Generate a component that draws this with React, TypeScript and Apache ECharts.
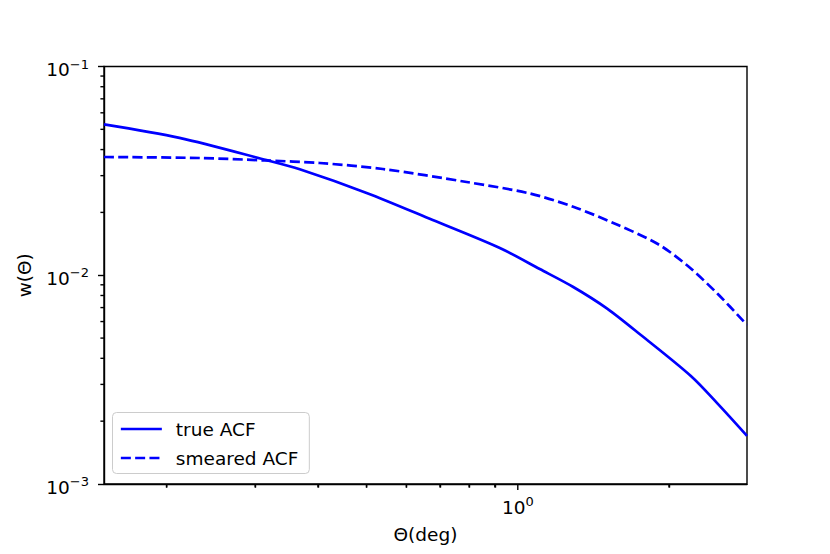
import React, { useEffect, useRef } from 'react';
import * as echarts from 'echarts';

// ---- data ----
const trueTheta = [0.150, 0.212, 0.316, 0.368, 0.500, 0.677, 0.921, 1.106, 1.287, 1.504, 1.758, 2.211, 2.502, 2.86];
const trueW = [0.0528, 0.0455, 0.0356, 0.03218, 0.0248, 0.0184, 0.01351, 0.01071, 0.00881, 0.00694, 0.00517, 0.00329, 0.00242, 0.0017];

const smearTheta = [0.150, 0.2325, 0.316, 0.403, 0.5385, 0.791, 1.057, 1.293, 1.575, 1.900, 2.181, 2.502, 2.86];
const smearW = [0.03685, 0.03645, 0.03545, 0.03449, 0.03228, 0.02797, 0.02464, 0.02123, 0.0175, 0.01412, 0.01107, 0.00813, 0.00578];

const seriesNames = ['true ACF', 'smeared ACF'];

const xRange = [0.15, 2.86];
const yRange = [0.001, 0.1];
const xMajorTicks = [1];
const xMinorTicks = [0.2, 0.3, 0.4, 0.5, 0.6, 0.7, 0.8, 0.9, 2];
const yMajorTicks = [0.001, 0.01, 0.1];
const yMinorTicks = [
  0.002, 0.003, 0.004, 0.005, 0.006, 0.007, 0.008, 0.009,
  0.02, 0.03, 0.04, 0.05, 0.06, 0.07, 0.08, 0.09,
];

const FONT = 'DejaVu Sans';
const FS = 18.5;
const powLabel = (v: number) => {
  const e = Math.round(v);
  const s = e < 0 ? '\u2212' + String(-e) : String(e);
  return '{b|10}{s|' + s + '}';
};
const richPow = {
  b: { fontSize: FS, lineHeight: 18, padding: [6, 0, 0, 0], color: '#000', fontFamily: FONT },
  s: { fontSize: 13, lineHeight: 18, verticalAlign: 'top', color: '#000', fontFamily: FONT },
};

const L = (a: number[]) => a.map((v) => Math.log10(v));

export default function App() {
  const ref = useRef<HTMLDivElement>(null);
  useEffect(() => {
    if (!ref.current) return;
    const chart = echarts.init(ref.current, undefined, { renderer: 'svg' });
    const gridPos = { left: 104, right: 83, top: 66.5, bottom: 70 };
    const tickStyle = { color: '#000', width: 1.4 };
    const xMin = Math.log10(xRange[0]);
    const xMax = Math.log10(xRange[1]);
    const yMin = Math.log10(yRange[0]);
    const yMax = Math.log10(yRange[1]);

    // x ticks hang below the bottom spine, placed through the x scale
    const xTickSeries = (vals: number[], len: number) => ({
      type: 'custom', xAxisIndex: 0, yAxisIndex: 0, clip: false, silent: true, z: 100,
      data: L(vals).map((v) => [v, yMin]),
      renderItem: (_p: any, api: any) => {
        const pt = api.coord([api.value(0), api.value(1)]);
        return {
          type: 'line', z2: 100,
          shape: { x1: pt[0], y1: pt[1], x2: pt[0], y2: pt[1] + len },
          style: { stroke: '#000', lineWidth: 1.4 },
        };
      },
    });
    // y minor ticks stick out left of the left spine, placed through the y scale
    const yTickSeries = (vals: number[], len: number) => ({
      type: 'custom', xAxisIndex: 0, yAxisIndex: 0, clip: false, silent: true, z: 100,
      data: L(vals).map((v) => [xMin, v]),
      renderItem: (_p: any, api: any) => {
        const pt = api.coord([api.value(0), api.value(1)]);
        return {
          type: 'line',
          shape: { x1: pt[0] - len, y1: pt[1], x2: pt[0], y2: pt[1] },
          style: { stroke: '#000', lineWidth: 1.4 },
        };
      },
    });

    chart.setOption({
      animation: false,
      backgroundColor: '#fff',
      grid: [{ ...gridPos, show: true, borderColor: '#000', borderWidth: 1.4 }],
      xAxis: [
        {
          type: 'value', min: xMin, max: xMax,
          axisLine: { show: true, onZero: false, lineStyle: { color: '#000', width: 1.4 } },
          splitLine: { show: false },
          axisTick: { show: true, customValues: L(xMinorTicks), length: 3.6, lineStyle: tickStyle },
          axisLabel: {
            customValues: L(xMajorTicks), formatter: powLabel, margin: 11,
            rich: richPow, color: '#000', fontFamily: FONT,
          },
          name: 'Θ(deg)', nameLocation: 'middle', nameGap: 41,
          nameTextStyle: { fontSize: FS, color: '#000', fontFamily: FONT },
        },
      ],
      yAxis: [
        {
          type: 'value', min: yMin, max: yMax,
          axisLine: { show: true, onZero: false, lineStyle: { color: '#000', width: 1.4 } },
          splitLine: { show: false },
          axisTick: { show: true, customValues: L(yMajorTicks), length: 6, lineStyle: tickStyle },
          axisLabel: {
            customValues: L(yMajorTicks), formatter: powLabel, margin: 15,
            rich: richPow, color: '#000', fontFamily: FONT,
          },
          name: 'w(Θ)', nameLocation: 'middle', nameGap: 70,
          nameTextStyle: { fontSize: FS, color: '#000', fontFamily: FONT },
        },
      ],
      legend: {
        left: 112.5, top: 412.5, orient: 'vertical',
        itemWidth: 41, itemHeight: 14, itemGap: 10,
        padding: [7, 11, 6, 7],
        borderColor: '#cccccc', borderWidth: 1, borderRadius: 4,
        backgroundColor: '#fff',
        itemStyle: { color: 'rgba(0,0,0,0)', borderColor: 'rgba(0,0,0,0)', borderWidth: 0 },
        lineStyle: { width: 2.7 },
        textStyle: { fontSize: FS, color: '#000', fontFamily: FONT, padding: [0, 0, 0, 9] },
        data: seriesNames,
      },
      series: [
        {
          name: seriesNames[0], type: 'line', symbol: 'none', smooth: 0.3,
          lineStyle: { color: '#0000ff', width: 2.7 },
          itemStyle: { color: '#0000ff' },
          data: trueTheta.map((t, i) => [Math.log10(t), Math.log10(trueW[i])]),
        },
        {
          name: seriesNames[1], type: 'line', symbol: 'none', smooth: 0.3,
          lineStyle: { color: '#0000ff', width: 2.7, type: [10, 4.3] },
          itemStyle: { color: '#0000ff' },
          data: smearTheta.map((t, i) => [Math.log10(t), Math.log10(smearW[i])]),
        },
        xTickSeries(xMajorTicks, 6),
        xTickSeries(xMinorTicks, 3.6),
        yTickSeries(yMinorTicks, 3.6),
      ],
    });
    return () => chart.dispose();
  }, []);
  return (
    <div
      ref={ref}
      style={{ position: 'fixed', left: 0, top: 0, width: 830, height: 554 }}
    />
  );
}
